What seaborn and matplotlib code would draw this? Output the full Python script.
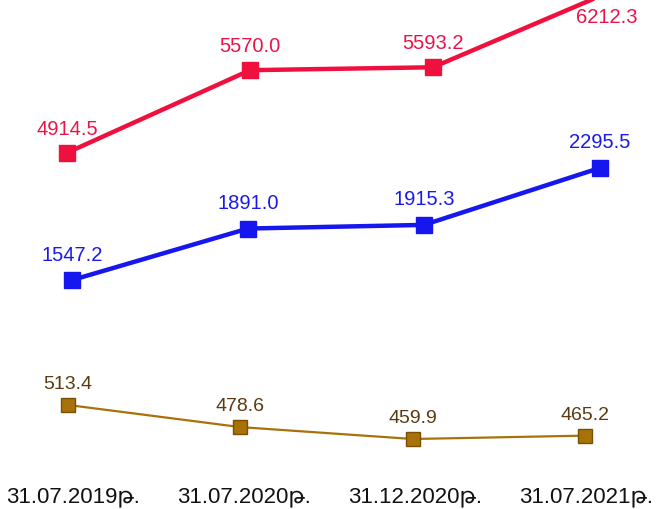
import matplotlib
matplotlib.use("Agg")
import matplotlib.pyplot as plt
import seaborn as sns
import pandas as pd

sns.set_theme(style="white")
plt.rcParams['font.family'] = ['Liberation Sans', 'DejaVu Sans']

dates = ["31.07.2019թ.", "31.07.2020թ.", "31.12.2020թ.", "31.07.2021թ."]
red_vals = [4914.5, 5570.0, 5593.2, 6212.3]
blue_vals = [1547.2, 1891.0, 1915.3, 2295.5]
brown_vals = [513.4, 478.6, 459.9, 465.2]

W, H = 656, 509
fig = plt.figure(figsize=(W / 100, H / 100), dpi=100)
fig.patch.set_facecolor("white")

def make_ax(a, b, c, s, rect=(0, 0, 1, 1)):
    # pixel_x = a + b*i ; pixel_y(from top) = c - s*v
    ax = fig.add_axes(list(rect))
    ax.set_xlim(-a / b, (W - a) / b)
    ax.set_ylim((c - H) / s, c / s)
    ax.patch.set_alpha(0)
    for sp in ax.spines.values():
        sp.set_visible(False)
    ax.set_xticks([])
    ax.set_yticks([])
    ax.set_xlabel("")
    ax.set_ylabel("")
    return ax

series = [
    dict(vals=red_vals, color="#F0103E", label_color="#E8154A", lw=3.2, ms=12, fs=14.5,
         ab=(67, 183), cs=(772.0, 0.126), dy=17, mec="#F0103E"),
    dict(vals=blue_vals, color="#1616EE", label_color="#1A1AE8", lw=3.2, ms=12, fs=14.5,
         ab=(72, 176), cs=(512.0, 0.1499), dy=18, mec="#1616EE"),
    dict(vals=brown_vals, color="#A8720A", label_color="#5A3A10", lw=1.6, ms=10, fs=14,
         ab=(68, 172.4), cs=(731.5, 0.636), dy=14.5, mec="#7A5000"),
]

for k, sd in enumerate(series):
    ax = make_ax(sd["ab"][0], sd["ab"][1], sd["cs"][0], sd["cs"][1])
    df = pd.DataFrame({"i": range(len(dates)), "v": sd["vals"]})
    sns.lineplot(data=df, x="i", y="v", ax=ax, color=sd["color"], lw=sd["lw"],
                 marker="s", markersize=sd["ms"], markeredgecolor=sd["mec"],
                 markerfacecolor=sd["color"], markeredgewidth=1)
    ax.set_xlabel("")
    ax.set_ylabel("")
    for i, v in enumerate(sd["vals"]):
        dy = sd["dy"]
        dx = 0
        if k == 0 and i == len(sd["vals"]) - 1:
            dy, dx = -20, -6.5
        ax.annotate(f"{v:.1f}", (i, v), xytext=(dx, dy), textcoords="offset points",
                    ha="center", va="center", color=sd["label_color"], fontsize=sd["fs"],
                    annotation_clip=False)

# x tick labels on a base axis
bottom = 27 / H
base = make_ax(73, 171, 731.5, 0.636, rect=(0, bottom, 1, 1 - bottom))
base.set_xticks(range(len(dates)))
base.set_xticklabels(dates, fontsize=16, color="#111111")
base.tick_params(axis="x", length=0, pad=3)

fig.savefig("out.png", dpi=100, facecolor="white")
